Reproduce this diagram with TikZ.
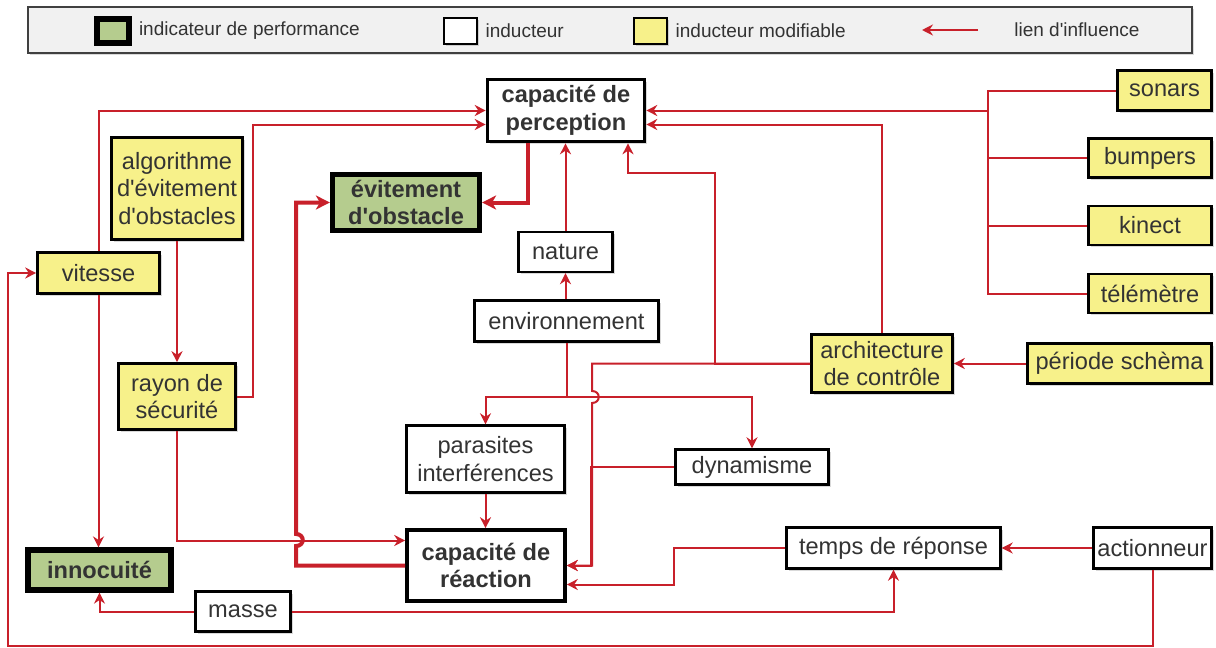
\documentclass[tikz,border=0pt]{standalone}
\usepackage{fontspec}
\setmainfont{Liberation Sans}[Ligatures=TeXOff]
\usepackage{xcolor}
\usetikzlibrary{calc, arrows.meta, shadows}

\definecolor{lienrouge}{RGB}{200,32,42}
\definecolor{vertperf}{RGB}{181,204,142}
\definecolor{jaunemod}{RGB}{247,241,138}
\definecolor{gristexte}{RGB}{51,51,51}
\definecolor{fondleg}{RGB}{241,241,241}

\tikzset{
  boite/.style={draw=black, fill=white, text=gristexte, align=center, inner sep=0pt,
    line width=1.2pt, drop shadow={shadow xshift=1pt, shadow yshift=-1pt, fill=black, opacity=0.15}},
  modif/.style={boite, fill=jaunemod, line width=1.3pt},
  perf/.style={boite, fill=vertperf, line width=2.6pt, font=\fontsize{11.8}{13.8}\selectfont\bfseries},
  cible/.style={boite, line width=1.8pt, font=\fontsize{11.8}{13.8}\selectfont\bfseries},
  dim/.style 2 args={minimum width=#1*0.5pt, minimum height=#2*0.5pt},
  fil/.style={draw=lienrouge, line width=1pt},
  lien/.style={fil, -{Stealth[length=5.5pt, width=5.5pt, inset=1.8pt]}},
  lienfort/.style={draw=lienrouge, line width=2pt, -{Stealth[length=7pt, width=7pt, inset=2pt]}},
  legtexte/.style={anchor=west, inner sep=1pt, text=gristexte, font=\fontsize{9.5}{11}\selectfont},
}

\begin{document}
\begin{tikzpicture}[x=0.5pt, y=-0.5pt, font=\fontsize{11.8}{13.8}\selectfont, line join=miter]

    \useasboundingbox (0,0) rectangle (1216,648);

    % ==========================================
    % LEGENDE
    % ==========================================
    \draw[draw=black!75, fill=fondleg, line width=0.8pt,
          drop shadow={shadow xshift=1pt, shadow yshift=-1pt, fill=black, opacity=0.15}]
          (28,7) rectangle (1192,53);

    \node[perf, dim={32}{24}] (legperf) at (113,31) {};
    \node[legtexte] at ($(legperf.east)+(5,0)$) {indicateur de performance};
    \node[boite, dim={33}{26}] (legind) at (460.5,31) {};
    \node[legtexte] at ($(legind.east)+(5,0)$) {inducteur};
    \node[modif, dim={33}{26}] (legmod) at (650.5,31) {};
    \node[legtexte] at ($(legmod.east)+(5,0)$) {inducteur modifiable};
    \coordinate (legA) at (978,30);
    \coordinate (legB) at (922,30);
    \draw[lien] (legA) -- (legB);
    \node[legtexte] at (1012,30) {lien d'influence};

    % ==========================================
    % NOEUDS
    % ==========================================
    \node[cible, dim={157}{62}] (perc) at (566,110.5) {capacité de\\perception};
    \node[perf, dim={147}{56}] (evit) at (406,202.5) {évitement\\d'obstacle};
    \node[modif, dim={131}{102}] (algo) at (177,188.5) {algorithme\\d'évitement\\d'obstacles};
    \node[modif, dim={122}{41}] (vit) at (98.5,273) {vitesse};

    % capteurs
    \node[modif, dim={94}{40}] (son) at (1164.5,90.5) {sonars};
    \node[modif, dim={123}{39}] (bump) at (1150,158) {bumpers};
    \node[modif, dim={123}{39}] (kin) at (1150,225.5) {kinect};
    \node[modif, dim={123}{39}] (tel) at (1150,293.5) {télémètre};

    \node[boite, dim={94}{40}] (nat) at (565.5,252) {nature};
    \node[boite, dim={184}{41}] (env) at (566.5,321) {environnement};
    \node[modif, dim={141}{58}] (arch) at (882,363.5) {architecture\\de contrôle};
    \node[modif, dim={184}{40}] (per) at (1119.5,363.5) {période schèma};
    \node[modif, dim={117}{66}] (ray) at (177,396.5) {rayon de\\sécurité};
    \node[boite, dim={158}{67}] (para) at (485.5,459) {parasites\\interférences};
    \node[boite, dim={153}{35}] (dyn) at (752,467) {dynamisme};
    \node[cible, dim={158}{71}] (reac) at (486,565.5) {capacité de\\réaction};
    \node[boite, dim={214}{41}] (temps) at (893.5,548) {temps de réponse};
    \node[boite, dim={118}{41}] (act) at (1152.5,548) {actionneur};
    \node[perf, dim={143}{40}] (inno) at (99.5,570) {innocuité};
    \node[boite, dim={95}{40}] (masse) at (243,611.5) {masse};

    % ==========================================
    % LIENS D'INFLUENCE
    % ==========================================

    % vers la capacite de perception
    \draw[lien] (vit.north) |- (perc.west);
    \draw[lien] (ray.east) -- ++(16,0) |- ($(perc.west)+(0,14)$);
    \draw[lien] (nat.north) -- (nat.north |- perc.south);
    \draw[lien] (arch.north) |- ($(perc.east)+(0,14)$);
    \draw[lien] (arch.west) -| (715,173) -| ($(perc.south)+(62,0)$);

    % capteurs regroupes sur un bus
    \coordinate (capt) at ($(perc.east)+(342,0)$);
    \foreach \c in {son, bump, kin, tel}
        \draw[fil] (\c.west) -| (capt);
    \draw[lien] (capt) -- (perc.east);

    % evitement d'obstacle
    \draw[lienfort] ($(perc.south)+(-38,0)$) |- (evit.east);
    \draw[lienfort] (reac.west) -- (296,565.5) -- (296,546)
        .. controls (305,546) and (305,534) .. (296,534) |- (evit.west);

    % environnement
    \draw[lien] (nat.south |- env.north) -- (nat.south);
    \coordinate (envb) at ($(env.south)+(0,54)$);
    \draw[lien] (env.south) -- (envb) -| (para.north);
    \draw[lien] (envb) -| (dyn.north);

    % vers la capacite de reaction
    \draw[lien] (para.south) -- (para.south |- reac.north);
    \draw[lien] (ray.south) |- ($(reac.west)+(0,-25)$);
    \draw[lien] (arch.west) -- (592,363.5) -- (592,391)
        .. controls (601,391) and (601,403) .. (592,403) |- (reac.east);
    \draw[lien] (dyn.west) -- ++(-83,0) |- (reac.east);
    \draw[lien] (temps.west) -- ++(-111,0) |- ($(reac.east)+(0,19)$);

    % autres liens
    \draw[lien] (algo.south) -- (ray.north);
    \draw[lien] (per.west) -- (arch.east);
    \draw[lien] (act.west) -- (temps.east);
    \draw[lien] (masse.east) -| (temps.south);
    \draw[lien] (masse.west) -| (inno.south);
    \draw[lien] (vit.south) -- (vit.south |- inno.north);
    \draw[lien] (act.south) |- (8,646) |- (vit.west);

\end{tikzpicture}
\end{document}
